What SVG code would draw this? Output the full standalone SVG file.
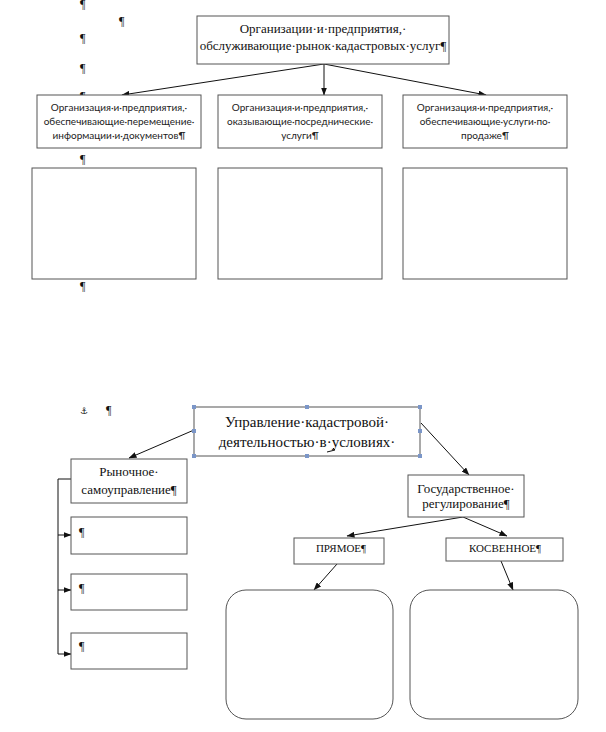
<svg xmlns="http://www.w3.org/2000/svg" width="606" height="732" viewBox="0 0 606 732">
<style>
.box{fill:#fff;stroke:#555;stroke-width:1}
.ser{font-family:"Liberation Serif","DejaVu Serif",serif;fill:#111}
.san{font-family:Lato,"Liberation Sans",sans-serif;fill:#222;font-size:10px}
.con{stroke:#111;stroke-width:1;fill:none}
.pil{font-family:"Liberation Serif",serif;font-size:12px;fill:#111}
.h{fill:#7b96c8}
</style>
<defs>
<marker id="ah" markerWidth="8" markerHeight="6" refX="7.5" refY="3" orient="auto" markerUnits="userSpaceOnUse">
<path d="M0,0 L8,3 L0,6 z" fill="#111"/>
</marker>
</defs>
<rect width="606" height="732" fill="#fff"/>
<g id="marks">
<text class="pil" x="80" y="8">¶</text>
<text class="pil" x="119" y="25">¶</text>
<text class="pil" x="80" y="42">¶</text>
<text class="pil" x="80" y="72">¶</text>
<text class="pil" x="80" y="100">¶</text>
<text class="pil" x="80" y="163">¶</text>
<text class="pil" x="80" y="290">¶</text>
<text x="80" y="414" style="font-family:'DejaVu Sans',sans-serif;font-size:9px" fill="#111">⚓</text>
<text class="pil" x="106" y="414">¶</text>
</g>
<g id="connectors">
<line class="con" x1="324" y1="64" x2="122" y2="95" marker-end="url(#ah)"/>
<line class="con" x1="324" y1="64" x2="324" y2="95" marker-end="url(#ah)"/>
<line class="con" x1="324" y1="64" x2="486" y2="95" marker-end="url(#ah)"/>
<line class="con" x1="194" y1="430" x2="129" y2="458" marker-end="url(#ah)"/>
<line class="con" x1="421" y1="423" x2="469" y2="475" marker-end="url(#ah)"/>
<polyline class="con" points="71,479 58,479 58,654"/>
<line class="con" x1="58" y1="535" x2="71" y2="535" marker-end="url(#ah)"/>
<line class="con" x1="58" y1="590" x2="71" y2="590" marker-end="url(#ah)"/>
<line class="con" x1="58" y1="654" x2="71" y2="654" marker-end="url(#ah)"/>
<line class="con" x1="463" y1="517" x2="347" y2="536" marker-end="url(#ah)"/>
<line class="con" x1="463" y1="517" x2="507" y2="536" marker-end="url(#ah)"/>
<line class="con" x1="337" y1="564" x2="314" y2="590" marker-end="url(#ah)"/>
<line class="con" x1="501" y1="561" x2="513" y2="590" marker-end="url(#ah)"/>
</g>
<g id="top">
<rect class="box" x="197" y="16" width="252" height="48"/>
<text class="ser" font-size="13" text-anchor="middle" x="323" y="33">Организации·и·предприятия,·</text>
<text class="ser" font-size="13" text-anchor="middle" x="323" y="50">обслуживающие·рынок·кадастровых·услуг¶</text>
</g>
<g id="org1">
<rect class="box" x="37" y="95" width="164" height="53"/>
<text class="san" text-anchor="middle" x="119" y="111">Организация·и·предприятия,·</text>
<text class="san" text-anchor="middle" x="119" y="125">обеспечивающие·перемещение·</text>
<text class="san" text-anchor="middle" x="119" y="139">информации·и·документов¶</text>
</g>
<g id="org2">
<rect class="box" x="218" y="95" width="164" height="53"/>
<text class="san" text-anchor="middle" x="300" y="111">Организация·и·предприятия,·</text>
<text class="san" text-anchor="middle" x="300" y="125">оказывающие·посреднические·</text>
<text class="san" text-anchor="middle" x="300" y="139">услуги¶</text>
</g>
<g id="org3">
<rect class="box" x="403" y="95" width="164" height="53"/>
<text class="san" text-anchor="middle" x="485" y="111">Организация·и·предприятия,·</text>
<text class="san" text-anchor="middle" x="485" y="125">обеспечивающие·услуги·по·</text>
<text class="san" text-anchor="middle" x="485" y="139">продаже¶</text>
</g>
<g id="empty1"><rect class="box" x="32" y="168" width="164" height="111"/></g>
<g id="empty2"><rect class="box" x="218" y="168" width="164" height="111"/></g>
<g id="empty3"><rect class="box" x="403" y="168" width="164" height="111"/></g>
<g id="main">
<rect class="box" x="194" y="407" width="226" height="49"/>
<text class="ser" font-size="15" text-anchor="middle" x="307" y="427">Управление·кадастровой·</text>
<text class="ser" font-size="15" text-anchor="middle" x="307" y="447">деятельностью·в·условиях·</text>
<path d="M327,452 L335,450 L333,448" stroke="#111" stroke-width="1" fill="none"/>
<rect class="h" x="192" y="405" width="4" height="4"/>
<rect class="h" x="305" y="405" width="4" height="4"/>
<rect class="h" x="418" y="405" width="4" height="4"/>
<rect class="h" x="192" y="429" width="4" height="4"/>
<rect class="h" x="418" y="429" width="4" height="4"/>
<rect class="h" x="192" y="454" width="4" height="4"/>
<rect class="h" x="305" y="454" width="4" height="4"/>
<rect class="h" x="418" y="454" width="4" height="4"/>
</g>
<g id="market">
<rect class="box" x="71" y="459" width="116" height="44"/>
<text class="ser" font-size="13" text-anchor="middle" x="129" y="476">Рыночное·</text>
<text class="ser" font-size="13" text-anchor="middle" x="129" y="494">самоуправление¶</text>
</g>
<g id="sub1"><rect class="box" x="71" y="517" width="116" height="37"/><text class="pil" x="79" y="536">¶</text></g>
<g id="sub2"><rect class="box" x="71" y="574" width="116" height="36"/><text class="pil" x="79" y="592">¶</text></g>
<g id="sub3"><rect class="box" x="71" y="633" width="116" height="36"/><text class="pil" x="79" y="650">¶</text></g>
<g id="gov">
<rect class="box" x="408" y="475" width="116" height="42"/>
<text class="ser" font-size="13" text-anchor="middle" x="466" y="493">Государственное·</text>
<text class="ser" font-size="13" text-anchor="middle" x="466" y="508">регулирование¶</text>
</g>
<g id="direct">
<rect class="box" x="294" y="538" width="90" height="26"/>
<text class="ser" font-size="11" text-anchor="middle" x="341" y="552">ПРЯМОЕ¶</text>
</g>
<g id="indirect">
<rect class="box" x="446" y="538" width="117" height="23"/>
<text class="ser" font-size="11" text-anchor="middle" x="505" y="552">КОСВЕННОЕ¶</text>
</g>
<g id="round1"><rect class="box" x="226" y="590" width="167" height="129" rx="20"/></g>
<g id="round2"><rect class="box" x="410" y="590" width="168" height="129" rx="20"/></g>
</svg>
